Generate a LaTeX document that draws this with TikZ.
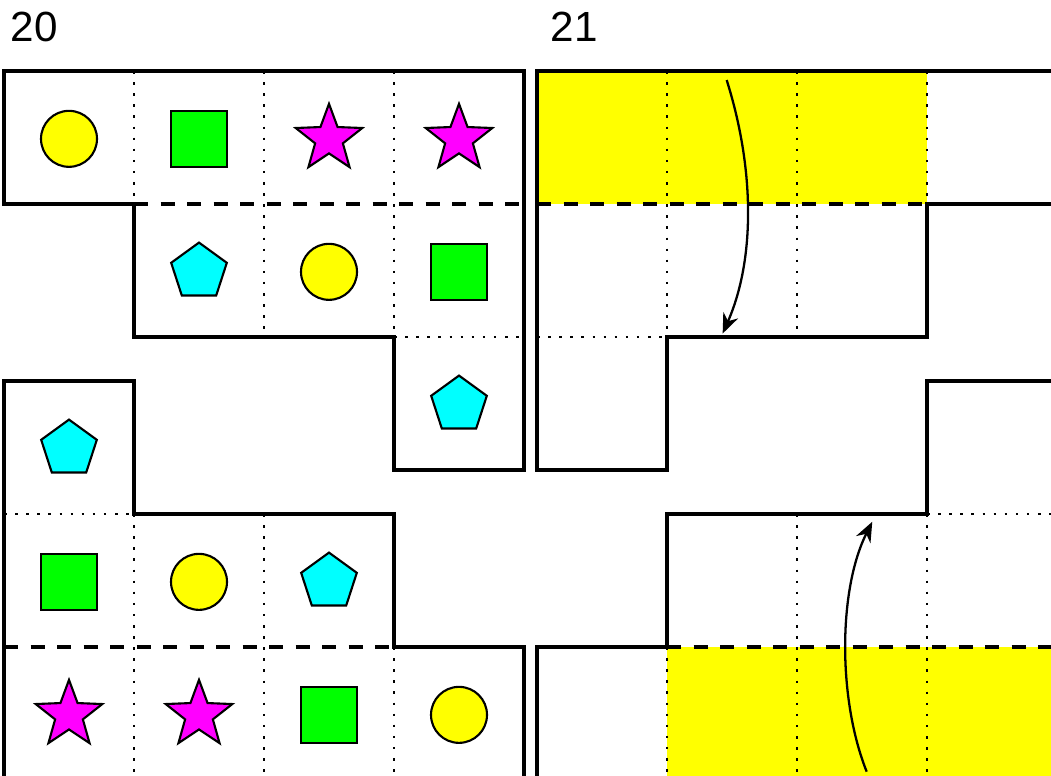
\documentclass[tikz,border=0pt]{standalone}
\usepackage{fontspec}
\setmainfont{Liberation Sans}
\usetikzlibrary{shapes.geometric,arrows.meta}

\begin{document}
\begin{tikzpicture}[x=2.6cm, y=-2.66cm]
  % Colors
  \definecolor{shpyellow}{RGB}{255,255,0}
  \definecolor{shpgreen}{RGB}{0,255,0}
  \definecolor{shpmagenta}{RGB}{255,0,255}
  \definecolor{shpcyan}{RGB}{0,255,255}
  %
  \def\rx{4.1}   % left edge of the right panel
  \def\ly{2.331} % top of the lower pieces
  %
  \tikzset{
    rim/.style={line width=2pt, line join=miter},
    cut/.style={line width=2pt, dash pattern=on 0.28cm off 0.25cm},
    seam/.style={line width=0.05cm, dash pattern=on 0.05cm off 0.172cm},
    token/.style={draw, line width=1.2pt, inner sep=0pt},
    circ/.style={token, circle, fill=shpyellow, minimum size=1.12cm},
    sq/.style={token, rectangle, fill=shpgreen, minimum size=1.13cm},
    pent/.style={token, regular polygon, regular polygon sides=5, fill=shpcyan,
                 minimum size=1.17cm},
    starr/.style={token, star, star points=5, star point ratio=2.4, fill=shpmagenta,
                  minimum size=1.4cm},
    flip/.style={line width=1.3pt, -{Stealth[length=0.4cm, width=0.32cm]}},
    panel/.style={anchor=base west, inner sep=0pt, font=\fontsize{24}{28}\selectfont},
  }
  %
  \useasboundingbox (-0.03077,-0.53383) rectangle (8.05385,5.29323);
  \clip (-0.03077,-0.53383) rectangle (8.05385,5.29323);
  %
  %%% PANEL 20 %%%
  \node[panel] (lab20) at (0.049, -0.22) {20};
  %
  % --- Upper piece ---
  \draw[seam] (1,0) -- (1,1) (2,0) -- (2,2) (3,0) -- (3,2) (3,2) -- (4,2);
  \draw[cut] (1,1) -- (4,1);
  \draw[rim] (0,0) -- (4,0) -- (4,3) -- (3,3) -- (3,2) -- (1,2) -- (1,1) -- (0,1) -- cycle;
  \foreach \c/\r/\s in {
    0/0/circ, 1/0/sq, 2/0/starr, 3/0/starr,
    1/1/pent, 2/1/circ, 3/1/sq,
    3/2/pent%
  } {
    \node[\s] (up-\c-\r) at (\c+0.5, \r+0.51) {};
  }
  %
  % --- Lower piece ---
  \draw[seam] (0,\ly+1) -- (1,\ly+1) (1,\ly+1) -- (1,\ly+3) (2,\ly+1) -- (2,\ly+3)
              (3,\ly+2) -- (3,\ly+3);
  \draw[cut] (0,\ly+2) -- (3,\ly+2);
  \draw[rim] (0,\ly+3) -- (0,\ly) -- (1,\ly) -- (1,\ly+1) -- (3,\ly+1) -- (3,\ly+2)
             -- (4,\ly+2) -- (4,\ly+3) -- cycle;
  \foreach \c/\r/\s in {
    0/0/pent,
    0/1/sq, 1/1/circ, 2/1/pent,
    0/2/starr, 1/2/starr, 2/2/sq, 3/2/circ%
  } {
    \node[\s] (lo-\c-\r) at (\c+0.5, {\ly+\r+0.51}) {};
  }
  %
  %%% PANEL 21 %%%
  \node[panel] (lab21) at (4.203, -0.22) {21};
  %
  % --- Upper piece ---
  \fill[shpyellow] (\rx,0) rectangle (\rx+3,1);
  \draw[seam] (\rx+1,0) -- (\rx+1,2) (\rx+2,0) -- (\rx+2,2) (\rx+3,0) -- (\rx+3,1)
              (\rx,2) -- (\rx+1,2);
  \draw[cut] (\rx,1) -- (\rx+3,1);
  \draw[rim] (\rx,0) -- (\rx+4,0) -- (\rx+4,1) -- (\rx+3,1) -- (\rx+3,2) -- (\rx+1,2)
             -- (\rx+1,3) -- (\rx,3) -- cycle;
  %
  % --- Lower piece ---
  \fill[shpyellow] (\rx+1,\ly+2) rectangle (\rx+4,\ly+3);
  \draw[seam] (\rx+3,\ly+1) -- (\rx+4,\ly+1) (\rx+2,\ly+1) -- (\rx+2,\ly+3)
              (\rx+3,\ly+1) -- (\rx+3,\ly+3) (\rx+1,\ly+2) -- (\rx+1,\ly+3);
  \draw[cut] (\rx+1,\ly+2) -- (\rx+4,\ly+2);
  \draw[rim] (\rx+4,\ly) -- (\rx+3,\ly) -- (\rx+3,\ly+1) -- (\rx+1,\ly+1) -- (\rx+1,\ly+2)
             -- (\rx,\ly+2) -- (\rx,\ly+3) -- (\rx+4,\ly+3) -- cycle;
  %
  % --- Moves ---
  \coordinate (dropA) at (5.559,0.068);
  \coordinate (dropB) at (5.528,1.974);
  \draw[flip] (dropA) .. controls +(0.218,0.676) and +(0.249,-0.553) .. (dropB);
  %
  \coordinate (liftA) at (6.636,5.268);
  \coordinate (liftB) at (6.679,3.389);
  \draw[flip] (liftA) .. controls +(-0.221,-0.539) and +(-0.264,0.513) .. (liftB);
\end{tikzpicture}
\end{document}
